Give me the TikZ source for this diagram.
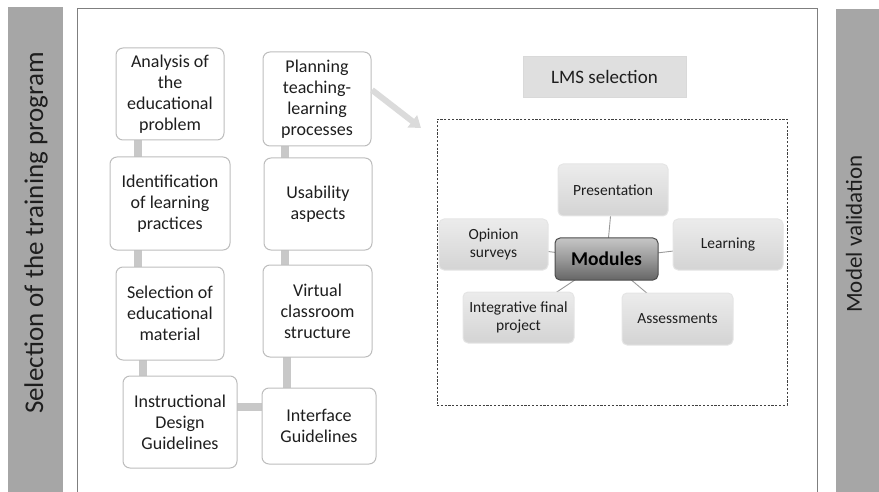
\documentclass[tikz,border=0pt]{standalone}
\usepackage{fontspec}
\setmainfont{Carlito}
\usetikzlibrary{arrows.meta,shadings}
\definecolor{barg}{HTML}{A6A6A6}
\definecolor{conng}{HTML}{C8C8C8}
\definecolor{boxline}{HTML}{BDBDBD}
\definecolor{frameg}{HTML}{7F7F7F}
\definecolor{txt}{HTML}{1E1E1E}
\tikzset{
  stepbox/.style={draw=boxline, line width=1pt, rounded corners=7pt, fill=white, align=center, font=\fontsize{18}{21}\selectfont, text=txt, inner sep=1pt},
  conn/.style={draw=conng, line width=8pt},
  modbox/.style={draw=white!80!gray, line width=1pt, rounded corners=5pt, top color=white!85!gray, bottom color=white!66!gray, align=center, font=\fontsize{15.5}{18}\selectfont, text=txt, inner sep=1pt},
  modlink/.style={draw=gray!80, line width=0.9pt},
}
\begin{document}
\begin{tikzpicture}[x=1pt,y=-1pt]
\useasboundingbox (0,0) rectangle (879,492);
% side bars
\fill[barg] (8,7) rectangle (63,492);
\node[rotate=90, font=\fontsize{27}{30}\selectfont, text=txt] (leftlabel) at (36,233) {Selection of the training program};
\fill[barg] (836,9) rectangle (879,492);
\node[rotate=90, font=\fontsize{23}{26}\selectfont, text=txt] (rightlabel) at (854,234) {Model validation};
% main frame
\draw[frameg, line width=0.8pt] (77,500) -- (77,8) -- (817,8) -- (817,500);
% connectors
\draw[conn] (138,140) -- (138,157);
\draw[conn] (138,250) -- (138,267);
\draw[conn] (143,360) -- (143,376);
\draw[conn] (237,407) -- (262,407);
\draw[conn] (285,146) -- (285,158);
\draw[conn] (285,250) -- (285,265);
\draw[conn] (287,357) -- (287,388);
% left column
\node[stepbox, minimum width=108pt, minimum height=92pt] (ana) at (170,94) {Analysis of\\the\\educational\\problem};
\node[stepbox, minimum width=120pt, minimum height=93pt] (ide) at (170,203.5) {Identification\\of learning\\practices};
\node[stepbox, minimum width=108pt, minimum height=93pt] (sel) at (170,313.5) {Selection of\\educational\\material};
\node[stepbox, minimum width=114pt, minimum height=92pt] (ins) at (180,422) {Instructional\\Design\\Guidelines};
% right column
\node[stepbox, minimum width=108pt, minimum height=94pt] (pla) at (317,99) {Planning\\teaching-\\learning\\processes};
\node[stepbox, minimum width=108pt, minimum height=92pt] (usa) at (318,204) {Usability\\aspects};
\node[stepbox, minimum width=109pt, minimum height=92pt] (vir) at (317.5,311) {Virtual\\classroom\\structure};
\node[stepbox, minimum width=114pt, minimum height=76pt] (int) at (319,426) {Interface\\Guidelines};
% LMS selection
\node[fill=white!75!gray, draw=white!70!gray, minimum width=163pt, minimum height=41pt, font=\fontsize{19}{22}\selectfont, text=txt] (lms) at (604.5,76.5) {LMS selection};
% dashed area
\node[draw=black!75, dash pattern=on 2.2pt off 1.6pt, line width=0.9pt, minimum width=350pt, minimum height=286pt, inner sep=0pt] (area) at (612,262) {};
% arrow
\coordinate (arrEnd) at (421,128);
\draw[draw=white!72!gray, line width=6pt, -{Triangle[length=11pt,width=15pt]}] (372,90) -- (arrEnd);
% module links
\coordinate (mc) at (606.5,259);
\draw[modlink] (mc) -- (613,190);
\draw[modlink] (mc) -- (493.5,244.5);
\draw[modlink] (mc) -- (728,244.5);
\draw[modlink] (mc) -- (518.5,317.5);
\draw[modlink] (mc) -- (677.5,319);
\node[modbox, minimum width=110pt, minimum height=52pt] (pre) at (613,190) {Presentation};
\node[modbox, minimum width=109pt, minimum height=51pt] (opi) at (493.5,244.5) {Opinion\\surveys};
\node[modbox, minimum width=110pt, minimum height=51pt] (lea) at (728,244.5) {Learning};
\node[modbox, minimum width=111pt, minimum height=51pt] (itg) at (518.5,317.5) {Integrative final\\project};
\node[modbox, minimum width=111pt, minimum height=52pt] (ass) at (677.5,319) {Assessments};
\node[draw=black!70, line width=1pt, rounded corners=5pt, top color=white!55!gray, bottom color=black!60, middle color=black!40, minimum width=103pt, minimum height=42pt, font=\bfseries\fontsize{19.5}{22}\selectfont, text=black] (mod) at (mc) {Modules};
\end{tikzpicture}
\end{document}
